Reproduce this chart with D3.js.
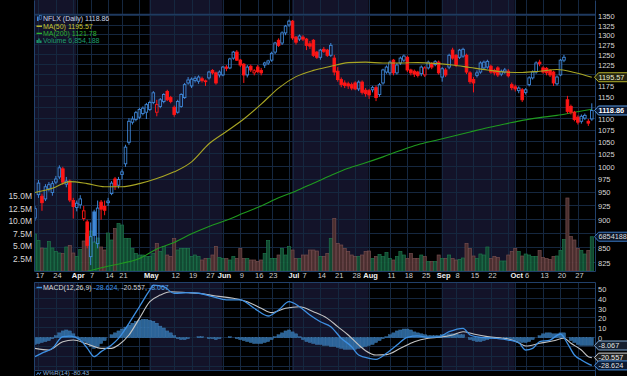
<!DOCTYPE html>
<html>
<head>
<meta charset="utf-8">
<script src="https://cdn.jsdelivr.net/npm/d3@7"></script>
<style>
  body { margin: 0; background: #000; }
  svg { display: block; font-family: "Liberation Sans", Arial, sans-serif; }
</style>
</head>
<body>
<svg id="chart" width="627" height="376"></svg>
<script>
// trading days, 2025 (MM-DD)
var dates = [
  "03-14","03-17","03-18","03-19","03-20","03-21","03-24","03-25","03-26","03-27","03-28","03-31",
  "04-01","04-02","04-03","04-04","04-07","04-08","04-09","04-10","04-11","04-14","04-15","04-16","04-17",
  "04-21","04-22","04-23","04-24","04-25","04-28","04-29","04-30",
  "05-01","05-02","05-05","05-06","05-07","05-08","05-09","05-12","05-13","05-14","05-15","05-16",
  "05-19","05-20","05-21","05-22","05-23","05-27","05-28","05-29","05-30",
  "06-02","06-03","06-04","06-05","06-06","06-09","06-10","06-11","06-12","06-13","06-16","06-17","06-18","06-20",
  "06-23","06-24","06-25","06-26","06-27","06-30",
  "07-01","07-02","07-03","07-07","07-08","07-09","07-10","07-11","07-14","07-15","07-16","07-17","07-18",
  "07-21","07-22","07-23","07-24","07-25","07-28","07-29","07-30","07-31",
  "08-01","08-04","08-05","08-06","08-07","08-08","08-11","08-12","08-13","08-14","08-15",
  "08-18","08-19","08-20","08-21","08-22","08-25","08-26","08-27","08-28","08-29",
  "09-02","09-03","09-04","09-05","09-08","09-09","09-10","09-11","09-12","09-15","09-16","09-17","09-18","09-19",
  "09-22","09-23","09-24","09-25","09-26","09-29","09-30",
  "10-01","10-02","10-03","10-06","10-07","10-08","10-09","10-10","10-13","10-14","10-15","10-16","10-17",
  "10-20","10-21","10-22","10-23","10-24","10-27","10-28","10-29","10-30","10-31"
];

var opens = [
  903,946,943,938,957,950,970,980,996,966,972,935,
  922,927,902,896,836,914,858,932,924,931,948,976,964,
  985,1006,1050,1093,1099,1104,1112,1115,
  1121,1137,1115,1128,1139,1162,1148,1126,1115,1128,1148,1182,
  1175,1188,1186,1192,1187,1194,1212,1206,1201,
  1201,1220,1218,1242,1257,1237,1227,1201,1222,1206,1220,1212,1225,1230,
  1237,1257,1287,1280,1306,1327,
  1337,1295,1290,1295,1290,1278,1287,1257,1244,1264,1262,1249,1242,
  1210,1190,1182,1180,1178,1182,1168,1184,1165,
  1164,1166,1171,1155,1182,1208,1206,1237,1206,1230,1237,
  1244,1213,1210,1208,1204,1201,1218,1228,1226,1232,
  1196,1213,1220,1262,1249,1244,1247,1249,1206,1190,1200,1208,1218,1220,
  1222,1212,1218,1203,1208,1210,1178,
  1173,1164,1166,1160,1178,1194,1208,1232,1218,1217,1212,1208,1180,
  1201,1237,1143,1128,1115,1104,1095,1102,1095,1100
];
var highs = [
  925,974,948,966,970,972,982,1003,1000,980,975,940,
  935,945,925,900,895,918,935,936,935,940,972,980,980,
  995,1045,1102,1106,1118,1125,1128,1136,
  1141,1163,1143,1147,1158,1166,1152,1130,1143,1158,1182,1196,
  1195,1198,1200,1197,1190,1211,1215,1209,1212,
  1223,1225,1243,1260,1262,1240,1230,1225,1226,1215,1225,1218,1233,1238,
  1258,1283,1292,1310,1327,1341,
  1340,1298,1302,1300,1293,1285,1290,1260,1265,1270,1265,1280,1250,
  1220,1195,1188,1185,1183,1186,1188,1188,1170,
  1168,1175,1176,1182,1216,1224,1236,1240,1230,1246,1251,
  1248,1216,1214,1211,1224,1222,1236,1232,1237,1236,
  1220,1218,1253,1268,1252,1265,1268,1253,1210,1196,1212,1234,1236,1238,
  1226,1216,1222,1214,1218,1215,1183,
  1178,1174,1170,1170,1198,1212,1234,1238,1222,1220,1215,1211,1200,
  1240,1250,1152,1132,1118,1108,1110,1112,1100,1135
];
var lows = [
  898,940,916,934,952,944,966,976,965,960,932,902,
  915,920,898,850,822,860,850,900,908,925,945,955,958,
  975,1000,1045,1088,1095,1100,1108,1100,
  1118,1133,1106,1124,1135,1140,1135,1105,1112,1125,1145,1178,
  1170,1183,1180,1183,1175,1190,1202,1178,1195,
  1198,1210,1215,1238,1235,1220,1182,1195,1208,1200,1205,1200,1218,1225,
  1233,1252,1270,1275,1300,1322,
  1288,1276,1285,1285,1262,1265,1245,1240,1238,1255,1245,1245,1200,
  1185,1172,1170,1168,1165,1165,1163,1155,1150,
  1145,1160,1140,1150,1178,1204,1200,1200,1202,1225,1232,
  1208,1200,1196,1195,1198,1196,1214,1215,1222,1202,
  1185,1196,1215,1238,1220,1240,1243,1203,1180,1160,1195,1204,1214,1216,
  1204,1200,1196,1198,1204,1195,1165,
  1162,1158,1138,1155,1174,1190,1204,1222,1204,1200,1196,1175,1176,
  1198,1232,1112,1110,1095,1088,1090,1098,1085,1096
];
var closes = [
  920,968,931,961,965,967,976,998,970,972,936,924,
  930,938,916,855,870,872,921,919,917,934,968,963,975,
  990,1040,1095,1100,1114,1121,1124,1132,
  1137,1159,1132,1143,1155,1143,1139,1110,1139,1155,1178,1189,
  1191,1193,1196,1188,1185,1208,1206,1182,1208,
  1220,1217,1240,1257,1237,1225,1201,1220,1213,1211,1209,1206,1230,1235,
  1254,1280,1274,1306,1324,1337,
  1293,1282,1298,1290,1274,1272,1249,1244,1262,1259,1249,1274,1208,
  1190,1178,1176,1175,1170,1168,1184,1160,1157,
  1154,1171,1148,1178,1213,1220,1232,1206,1225,1242,1247,
  1213,1206,1203,1200,1220,1218,1232,1220,1233,1206,
  1216,1201,1249,1242,1225,1262,1264,1208,1185,1182,1206,1230,1232,1234,
  1208,1206,1201,1210,1213,1199,1171,
  1168,1170,1143,1166,1194,1208,1230,1228,1208,1206,1201,1182,1196,
  1237,1244,1117,1115,1099,1093,1106,1108,1091,1118.86
];

// volume, millions of shares
var volumes = [
  7.4,6.1,4.6,4.5,5.9,4.6,3.9,3.6,3.5,4.8,
  5.1,3.6,2.9,4.3,6.0,7.6,8.0,5.8,6.6,4.8,
  4.2,7.6,6.2,8.5,9.5,9.2,6.5,6.5,4.5,3.5,
  3.2,3.2,2.9,2.9,3.5,5.5,3.9,4.9,3.2,2.9,
  6.5,4.2,4.5,4.5,4.5,2.9,3.2,2.9,2.2,2.5,
  2.5,3.2,4.9,2.7,2.5,2.5,2.2,2.9,2.5,4.5,
  2.5,2.5,2.2,2.2,1.9,2.2,3.5,6.1,2.5,2.5,
  3.2,4.5,3.2,4.9,4.2,2.5,2.5,3.2,3.2,4.2,
  4.2,4.0,2.9,2.9,3.5,6.5,10.5,5.5,5.2,4.5,
  3.9,3.2,2.9,2.9,3.2,3.9,4.0,2.5,2.9,3.3,
  2.9,3.7,2.5,2.2,2.9,3.9,3.2,2.5,3.5,2.5,
  2.5,3.2,2.9,1.9,1.9,1.9,3.2,2.5,2.5,3.2,
  2.5,2.2,2.3,2.6,5.5,4.5,3.0,2.5,3.4,3.2,
  4.8,2.5,2.9,2.7,2.0,2.0,3.2,3.9,4.5,3.9,
  3.0,3.4,3.2,2.9,2.9,4.1,2.7,2.5,2.3,2.9,
  3.0,4.1,6.3,14.6,6.9,6.2,4.5,4.1,3.4,4.1,6.854188
];

// moving averages, read every 5th session
var ma50Values = [950,958,971,967,961,961,967,977,990,1010,1047,1073,1100,1133,1170,1197,1212,
  1222,1231,1232,1230,1230,1231,1229,1225,1219,1213,1208,1207,1210,1214,1207,1195.57];
var ma200Values = [812,819,825,833,849,860,875,888,899,912,925,940,953,968,983,997,1008,1020,
  1033,1045,1054,1063,1072,1081,1089,1097,1103,1108,1115,1121.78];

// MACD(12,26,9): line and signal read at these sessions, histogram per session
var macdAt = [0,2,5,8,10,13,15,17,19,22,24,27,30,33,34,37,40,44,47,51,55,59,63,67,70,73,76,79,82,85,
  88,91,93,96,98,101,104,107,110,113,116,119,123,125,128,132,136,139,141,143,145,148,151,153,155,157,159,160];
var macdValues = [-19.6,-16,-11,1,1.7,-2.4,-10.7,-19.6,-14.4,-7.5,-0.7,14.9,32,49.3,54.4,52.7,45.9,46.5,45.9,42.4,
  39,39,30.4,22.4,28.6,37.2,32,23.4,16.5,11.4,-0.6,-9.3,-17.9,-21.3,-22.3,-16.1,-7.5,0.4,1.8,0.4,
  0.8,6.2,9.7,2.8,0.4,-0.6,-2.4,-5.2,-12.7,-11,-4.1,-2.4,3.8,-5.8,-17.9,-23,-27,-28.624];
var signalAt = [0,4,8,11,15,19,22,24,27,30,33,36,39,44,47,52,57,61,65,68,72,76,80,84,87,90,93,95,98,101,
  105,109,113,116,120,123,126,130,136,139,141,145,149,152,154,157,159,160];
var signalValues = [-11,-12.7,-4.1,-2.4,-6.5,-11,-11,-7.5,2.8,20,37.2,44,47.5,46.5,45.9,43,40.7,37.2,30.4,25.9,
  30.4,32,26.8,20,11.4,2.8,-7.5,-13.4,-17.9,-17.5,-11,-4.1,-0.6,0.4,2.8,6.2,3.8,1.1,-1.3,-5.2,
  -8.6,-5.8,-3.1,-0.6,-5.8,-12.7,-19.6,-20.557];
var histValues = [
  -7,-6,-5,-4,-3,-1,2,5,7,8, 7,4,1,-2,-4,-6,-9,-11,-9,-6,
  -3,0,3,5,7,9,11,13,15,17, 18,19,19,18,17,15,12,10,7,5,
  2,-1,-2,-2,-1,0,0,1,1,0, -1,-1,-2,-1,0,0,1,0,-1,-2,
  -3,-4,-5,-6,-6,-6,-5,-4,-2,1, 3,5,7,8,6,4,1,-2,-4,-5,
  -6,-7,-7,-8,-8,-9,-9,-10,-11,-12, -12,-12,-12,-11,-10,-9,-8,-7,-5,-3,
  -1,1,3,5,7,8,9,9,8,6, 5,4,3,2,2,2,2,3,3,4,
  4,4,3,3,0,-2,-3,-4,-4,-3, -2,-1,0,0,0,-1,-1,-2,-3,-4,
  -5,-5,-4,-2,0,2,4,5,5,4, 4,5,5,0,-3,-5,-7,-8,-8,-8,-8.067
];

// axis ticks
var tickDates = ["03-17","03-24","04-01","04-07","04-14","04-21","05-01","05-12","05-19","05-27","06-02","06-09",
  "06-16","06-23","07-01","07-07","07-14","07-21","07-28","08-01","08-11","08-18","08-25","09-02","09-08",
  "09-15","09-22","10-01","10-06","10-13","10-20","10-27"];
var tickLabels = ["17","24","Apr","7","14","21","May","12","19","27","Jun","9","16","23","Jul","7","14","21","28",
  "Aug","11","18","25","Sep","8","15","22","Oct","6","13","20","27"];
var extraGridDates = ["03-31","04-28","06-30","09-29"];
var shadedMonths = [["", "04-01"], ["05-01", "06-02"], ["07-01", "08-01"], ["09-02", "10-01"]];
var priceTicks = [825,850,875,900,925,950,975,1000,1025,1050,1075,1100,1125,1150,1175,1200,1225,1250,1275,1300,1325,1350];
var volumeTicks = [2.5,5,7.5,10,12.5,15];
var macdTicks = [-30,-20,-10,0,10,20,30,40,50];
var macdLabelTicks = [0,10,20,30,40,50];

var left = 34, right = 595, mainBottom = 271, macdTop = 282, macdBottom = 370;
var gridColor = "#15273f", upColor = "#3f87d8", downColor = "#ff1616";

var svg = d3.select("#chart");
svg.append("rect").attr("width", 627).attr("height", 376).attr("fill", "#000");

var x = d3.scalePoint().domain(dates).range([35, 591.8]);
var y = d3.scaleLog().domain([825, 1350]).range([263.3, 16.3]);
var yVol = d3.scaleLinear().domain([0, 15]).range([mainBottom, 196]);
var yMacd = d3.scaleLinear().domain([0, 50]).range([337.7, 289.3]);

var defs = svg.append("defs");
defs.append("clipPath").attr("id", "clip-main").append("rect")
  .attr("x", left).attr("y", 0).attr("width", right - left).attr("height", mainBottom);
defs.append("clipPath").attr("id", "clip-macd").append("rect")
  .attr("x", left).attr("y", macdTop).attr("width", right - left).attr("height", macdBottom - macdTop);

var main = svg.append("g").attr("clip-path", "url(#clip-main)");
var macdArea = svg.append("g").attr("clip-path", "url(#clip-macd)");

// month shading and grid in both panels
[[main, 0, mainBottom], [macdArea, macdTop, macdBottom]].forEach(function(p) {
  var g = p[0], top = p[1], bottom = p[2];
  shadedMonths.forEach(function(m) {
    var x0 = m[0] ? x(m[0]) - 0.5 : left;
    var x1 = x(m[1]) - 0.5;
    g.append("rect").attr("x", x0).attr("y", top).attr("width", x1 - x0).attr("height", bottom - top)
      .attr("fill", "#131329");
  });
  g.selectAll(".vgrid").data(tickDates.concat(extraGridDates)).enter().append("line")
    .attr("x1", function(d) { return Math.round(x(d)) + 0.5; })
    .attr("x2", function(d) { return Math.round(x(d)) + 0.5; })
    .attr("y1", top).attr("y2", bottom)
    .attr("stroke", gridColor).attr("stroke-width", 1);
});

main.selectAll(".hgrid").data(priceTicks).enter().append("line")
  .attr("x1", left).attr("x2", right)
  .attr("y1", function(d) { return Math.round(y(d)) - 0.5; })
  .attr("y2", function(d) { return Math.round(y(d)) - 0.5; })
  .attr("stroke", gridColor);
main.append("line").attr("x1", left).attr("x2", right).attr("y1", 14.5).attr("y2", 14.5)
  .attr("stroke", "#1f3a60").attr("stroke-width", 1.5);

macdArea.selectAll(".hgrid").data(macdTicks).enter().append("line")
  .attr("x1", left).attr("x2", right)
  .attr("y1", function(d) { return Math.round(yMacd(d)) - 0.5; })
  .attr("y2", function(d) { return Math.round(yMacd(d)) - 0.5; })
  .attr("stroke", gridColor);

var bars = dates.map(function(d, i) {
  return { date: d, o: opens[i], h: highs[i], l: lows[i], c: closes[i],
    prev: i ? closes[i - 1] : opens[i], v: volumes[i] };
});

// volume
main.selectAll(".vol").data(bars).enter().append("rect")
  .attr("x", function(d) { return x(d.date) - 1.55; })
  .attr("y", function(d) { return yVol(d.v); })
  .attr("width", 3.1)
  .attr("height", function(d) { return mainBottom - yVol(d.v); })
  .attr("fill", function(d) { return d.c >= d.prev ? "#124c33" : "#4d3030"; })
  .attr("stroke", function(d) { return d.c >= d.prev ? "#1f7a4e" : "#7a5050"; })
  .attr("stroke-width", 0.7)
  .attr("opacity", 0.95);

// moving averages
var sampleDates = dates.filter(function(d, i) { return i % 5 === 0; });
var maLine = d3.line().curve(d3.curveMonotoneX)
  .x(function(d) { return x(d[0]); }).y(function(d) { return y(d[1]); });
main.append("path")
  .datum(ma200Values.map(function(v, i) { return [sampleDates[i + 3], v]; }))
  .attr("d", maLine).attr("fill", "none").attr("stroke", "#1f9a1f").attr("stroke-width", 1.1);

// candles
var candle = main.selectAll(".candle").data(bars).enter().append("g");
candle.each(function(d) {
  var g = d3.select(this);
  var col = d.c >= d.prev ? upColor : downColor;
  var cx = x(d.date);
  var top = y(Math.max(d.o, d.c)), bot = y(Math.min(d.o, d.c));
  g.append("line").attr("x1", cx).attr("x2", cx).attr("y1", y(d.h)).attr("y2", top)
    .attr("stroke", col).attr("stroke-width", 1);
  g.append("line").attr("x1", cx).attr("x2", cx).attr("y1", bot).attr("y2", y(d.l))
    .attr("stroke", col).attr("stroke-width", 1);
  g.append("rect").attr("x", cx - 1.3).attr("y", top).attr("width", 2.6)
    .attr("height", Math.max(0.8, bot - top))
    .attr("fill", d.c > d.o ? "none" : col)
    .attr("stroke", col).attr("stroke-width", 0.9);
});

main.append("path")
  .datum(ma50Values.map(function(v, i) { return [sampleDates[i], v]; }))
  .attr("d", maLine).attr("fill", "none").attr("stroke", "#a9a624").attr("stroke-width", 1.1);

// MACD
macdArea.selectAll(".hist").data(histValues).enter().append("rect")
  .attr("x", function(d, i) { return x(dates[i]) - 1.6; })
  .attr("y", function(d) { return Math.min(yMacd(d), yMacd(0)); })
  .attr("width", 3.2)
  .attr("height", function(d) { return Math.abs(yMacd(d) - yMacd(0)); })
  .attr("fill", "#2f6da6").attr("stroke", "#4a8cc6").attr("stroke-width", 0.4).attr("opacity", 0.9);

var macdLine = d3.line().curve(d3.curveMonotoneX)
  .x(function(d) { return x(dates[d[0]]); }).y(function(d) { return yMacd(d[1]); });
macdArea.append("path")
  .datum(signalAt.map(function(k, i) { return [k, signalValues[i]]; }))
  .attr("d", macdLine).attr("fill", "none").attr("stroke", "#c4c4c4").attr("stroke-width", 1.1);
macdArea.append("path")
  .datum(macdAt.map(function(k, i) { return [k, macdValues[i]]; }))
  .attr("d", macdLine).attr("fill", "none").attr("stroke", "#3d8fe2").attr("stroke-width", 1.3);

// panel borders
svg.append("g").selectAll("line").data([
  [left, 0, left, mainBottom], [right, 0, right, mainBottom], [left, mainBottom, right, mainBottom],
  [left, macdTop, right, macdTop], [left, macdTop, left, macdBottom], [right, macdTop, right, macdBottom],
  [left, macdBottom, right, macdBottom], [left, macdBottom, left, 376], [right, macdBottom, right, 376]
]).enter().append("line")
  .attr("x1", function(d) { return d[0] + 0.5; }).attr("y1", function(d) { return d[1] + 0.5; })
  .attr("x2", function(d) { return d[2] + 0.5; }).attr("y2", function(d) { return d[3] + 0.5; })
  .attr("stroke", "#21406a");

// value boxes sit on the right axis and hide the tick labels beneath them
var boxes = [
  [y(ma50Values[ma50Values.length - 1]), "1195.57", "#b3b02a", "#23230f", "#eeeed0", false],
  [y(closes[closes.length - 1]), "1118.86", "#5a9ae2", "#0c1a33", "#ffffff", true],
  [yVol(volumes[volumes.length - 1]), "6854188", "#3b78c4", "#0b1526", "#dddddd", false],
  [yMacd(histValues[histValues.length - 1]), "-8.067", "#7ea6cf", "#15202f", "#e0e0e0", false],
  [yMacd(signalValues[signalValues.length - 1]), "-20.557", "#cfcfcf", "#202020", "#eeeeee", false],
  [yMacd(macdValues[macdValues.length - 1]), "-28.624", "#4a90e0", "#0b1930", "#e0e0e0", false]
];
function clearOfBoxes(pos) {
  return boxes.every(function(b) { return Math.abs(b[0] - pos) > 7; });
}

// axes
function styleAxis(g, size) {
  g.select(".domain").remove();
  g.attr("font-family", null).attr("font-size", size);
  g.selectAll("text").attr("fill", "#d6d6d6");
}
svg.append("g").attr("transform", "translate(" + right + ",0)")
  .call(d3.axisRight(y).tickValues(priceTicks.filter(function(t) { return clearOfBoxes(y(t)); }))
    .tickFormat(d3.format("d")).tickSize(0).tickPadding(3))
  .call(styleAxis, 7.5);
svg.append("g").attr("transform", "translate(" + left + ",0)")
  .call(d3.axisLeft(yVol).tickValues(volumeTicks).tickFormat(function(d) { return d.toFixed(1) + "M"; })
    .tickSize(0).tickPadding(2))
  .call(styleAxis, 8.5);
svg.append("g").attr("transform", "translate(" + right + ",0)")
  .call(d3.axisRight(yMacd).tickValues(macdLabelTicks).tickSize(0).tickPadding(3))
  .call(styleAxis, 7.5);
var xAxis = svg.append("g").attr("transform", "translate(1," + mainBottom + ")")
  .call(d3.axisBottom(x).tickValues(tickDates).tickFormat(function(d, i) { return tickLabels[i]; })
    .tickSize(0).tickPadding(2))
  .call(styleAxis, 7.5);
xAxis.selectAll("text")
  .attr("font-weight", function(d, i) { return isNaN(+tickLabels[i]) ? "bold" : null; })
  .attr("fill", function(d, i) { return isNaN(+tickLabels[i]) ? "#f0f0f0" : "#cfcfcf"; });

boxes.forEach(function(b) {
  var g = svg.append("g").attr("transform", "translate(0," + b[0] + ")");
  g.append("path").attr("d", "M594.5,0L598.5,-4.5L630,-4.5L630,4.5L598.5,4.5Z")
    .attr("fill", b[3]).attr("stroke", b[2]).attr("stroke-width", 1);
  g.append("text").attr("x", 598.5).attr("y", 0).attr("dy", "0.35em")
    .attr("font-size", 7.3).attr("font-weight", b[5] ? "bold" : null)
    .attr("fill", b[4]).text(b[1]);
});

// legends
var legend = svg.append("g").attr("font-size", 7);
var legendRows = [
  ["NFLX (Daily) 1118.86", "#c9d3e6"],
  ["MA(50) 1195.57", "#c9c631"],
  ["MA(200) 1121.78", "#2fb42f"],
  ["Volume 6,854,188", "#1f9f6c"]
];
legendRows.forEach(function(r, i) {
  var cy = 19 + i * 7.2;
  legend.append("text").attr("x", 43).attr("y", cy).attr("dy", "0.35em").attr("fill", r[1]).text(r[0]);
});
legend.append("rect").attr("x", 37).attr("y", 16.5).attr("width", 1.6).attr("height", 4.5).attr("fill", upColor);
legend.append("rect").attr("x", 39.6).attr("y", 15.5).attr("width", 1.6).attr("height", 4).attr("fill", "none")
  .attr("stroke", upColor).attr("stroke-width", 0.6);
legend.append("line").attr("x1", 36.5).attr("x2", 42).attr("y1", 26.2).attr("y2", 26.2).attr("stroke", "#c9c631").attr("stroke-width", 1.4);
legend.append("line").attr("x1", 36.5).attr("x2", 42).attr("y1", 33.4).attr("y2", 33.4).attr("stroke", "#2fb42f").attr("stroke-width", 1.4);
[[36.5, 3], [38.3, 4.5], [40.1, 2.5]].forEach(function(b) {
  legend.append("rect").attr("x", b[0]).attr("y", 43 - b[1]).attr("width", 1.4).attr("height", b[1]).attr("fill", "#1f9f6c");
});

var macdLegend = svg.append("text").attr("x", 43).attr("y", 287.5).attr("dy", "0.35em").attr("font-size", 7);
macdLegend.append("tspan").attr("fill", "#dcdcdc").text("MACD(12,26,9) ");
macdLegend.append("tspan").attr("fill", "#3f94ea").text("-28.624, ");
macdLegend.append("tspan").attr("fill", "#d0d0d0").text("-20.557, ");
macdLegend.append("tspan").attr("fill", "#5ba4e8").text("-8.067");
svg.append("line").attr("x1", 36.5).attr("x2", 42).attr("y1", 287.5).attr("y2", 287.5).attr("stroke", "#3d8fe2").attr("stroke-width", 1.4);

svg.append("text").attr("x", 43).attr("y", 373).attr("dy", "0.33em").attr("font-size", 6.2)
  .attr("fill", "#8fb0d8").text("W%R(14) -80.43");
svg.append("path").attr("d", "M36.5,375L38,372.5L39.5,374.5L41,372").attr("fill", "none").attr("stroke", "#4a90e0").attr("stroke-width", 0.9);
</script>
</body>
</html>
